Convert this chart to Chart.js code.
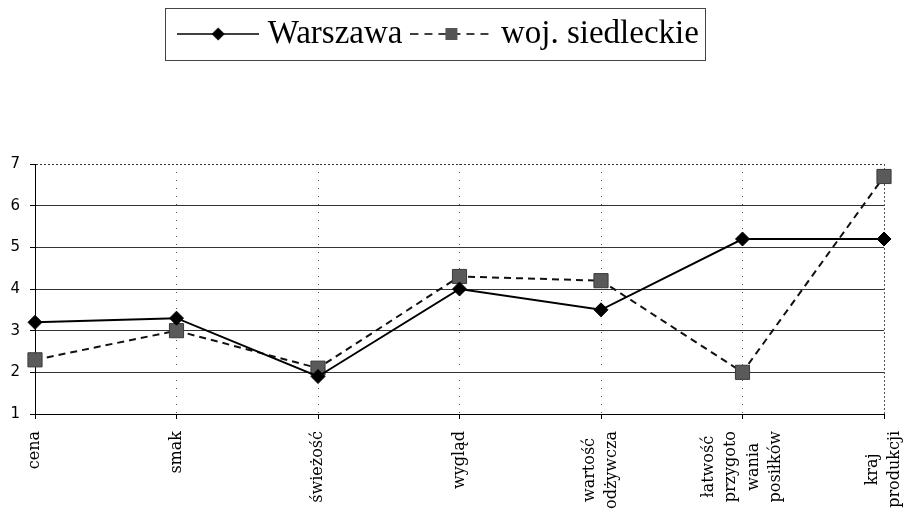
<!DOCTYPE html>
<html>
<head>
<meta charset="utf-8">
<script src="https://cdn.jsdelivr.net/npm/chart.js@4.4.1/dist/chart.umd.min.js"></script>
<style>
html, body { margin: 0; padding: 0; background: #fff; }
#wrap { width: 911px; height: 510px; position: relative; }
</style>
</head>
<body>
<div id="wrap"><canvas id="c"></canvas></div>
<script>
// ---- data ----
const categories = [
  ['cena'],
  ['smak'],
  ['świeżość'],
  ['wygląd'],
  ['wartość', 'odżywcza'],
  ['łatwość', 'przygoto', 'wania', 'posiłków'],
  ['kraj', 'produkcji']
];
const seriesNames = ['Warszawa', 'woj. siedleckie'];
const warszawa   = [3.2, 3.3, 1.9, 4.0, 3.5, 5.2, 5.2];
const siedleckie = [2.3, 3.0, 2.1, 4.3, 4.2, 2.0, 6.7];
const yTicks = [1, 2, 3, 4, 5, 6, 7];

// ---- legend icons (line + marker samples) ----
function makeIcon(kind) {
  const c = document.createElement('canvas');
  c.width = 82; c.height = 20;
  const g = c.getContext('2d');
  g.strokeStyle = '#000';
  g.lineWidth = 1.6;
  if (kind === 'square') g.setLineDash([8, 6]);
  g.beginPath(); g.moveTo(0, 10); g.lineTo(82, 10); g.stroke();
  g.setLineDash([]);
  if (kind === 'diamond') {
    g.fillStyle = '#000';
    g.beginPath();
    g.moveTo(34.5, 10); g.lineTo(41, 3.5); g.lineTo(47.5, 10); g.lineTo(41, 16.5);
    g.closePath(); g.fill();
  } else {
    g.fillStyle = '#555';
    g.fillRect(35, 4, 12, 12);
  }
  return c;
}
const legendIcons = [makeIcon('diamond'), makeIcon('square')];

const LEGEND_BLOCK = 162.5;
const legendSpacer = {
  id: 'legendSpacer',
  beforeUpdate(chart) {
    const lg = chart.legend;
    if (lg && !lg._patched) {
      const orig = lg.fit;
      lg.fit = function () { orig.call(this); this.height = LEGEND_BLOCK; };
      lg._patched = true;
    }
  }
};

const legendBorder = {
  id: 'legendBorder',
  afterDraw(chart) {
    const hb = chart.legend && chart.legend.legendHitBoxes;
    if (!hb || !hb.length) return;
    const a = hb[0], b = hb[hb.length - 1];
    const ctx = chart.ctx;
    ctx.save();
    ctx.strokeStyle = '#444';
    ctx.lineWidth = 1;
    const l = Math.round(a.left - 20.5) + 0.5;
    const r = Math.round(b.left + b.width + 6.5) + 0.5;
    const t = Math.round(a.top - 9.5) + 0.5;
    const btm = Math.round(a.top + a.height + 9.5) + 0.5;
    ctx.strokeRect(l, t, r - l, btm - t);
    ctx.restore();
  }
};

const xLabels = {
  id: 'xLabels',
  afterDraw(chart) {
    const s = chart.scales.x;
    const ctx = chart.ctx;
    const lh = 22.4;
    ctx.save();
    ctx.font = '16px "DejaVu Serif"';
    ctx.fillStyle = '#000';
    ctx.textAlign = 'center';
    ctx.textBaseline = 'middle';
    categories.forEach((lines, i) => {
      const px = s.getPixelForTick(i);
      const maxW = Math.max(...lines.map(t => ctx.measureText(t).width));
      ctx.save();
      ctx.translate(px, s.top + 17);
      ctx.rotate(-Math.PI / 2);
      lines.forEach((t, j) => ctx.fillText(t, -maxW / 2, (j - (lines.length - 1) / 2) * lh));
      ctx.restore();
    });
    ctx.restore();
  }
};

Chart.defaults.font.family = '"DejaVu Sans", sans-serif';
Chart.defaults.color = '#000';

new Chart(document.getElementById('c'), {
  type: 'line',
  data: {
    labels: categories,
    datasets: [
      {
        label: seriesNames[0],
        data: warszawa,
        borderColor: '#000',
        borderWidth: 2,
        pointStyle: 'rectRot',
        pointRadius: 7,
        pointBackgroundColor: '#000',
        pointBorderColor: '#000',
        pointBorderWidth: 1,
        tension: 0,
        clip: false
      },
      {
        label: seriesNames[1],
        data: siedleckie,
        borderColor: '#111',
        borderWidth: 2,
        borderDash: [7, 5],
        pointStyle: 'rect',
        pointRadius: 10,
        pointBackgroundColor: '#5a5a5a',
        pointBorderColor: '#3a3a3a',
        pointBorderWidth: 1,
        tension: 0,
        clip: false
      }
    ]
  },
  options: {
    responsive: true,
    maintainAspectRatio: false,
    animation: false,
    layout: { padding: { top: 1.5, right: 27, bottom: 0, left: 0 } },
    plugins: {
      tooltip: { enabled: false },
      legend: {
        position: 'top',
        labels: {
          usePointStyle: true,
          pointStyleWidth: 66,
          padding: 16,
          color: '#000',
          font: { family: '"Liberation Serif", serif', size: 33 },
          generateLabels(chart) {
            const items = Chart.defaults.plugins.legend.labels.generateLabels(chart);
            items.forEach((it, i) => { it.pointStyle = legendIcons[i]; it.lineWidth = 0; });
            return items;
          }
        }
      }
    },
    scales: {
      x: {
        type: 'category',
        offset: false,
        afterFit(scale) { scale.height = 96; },
        ticks: { display: false },
        grid: {
          color: '#555',
          lineWidth: 1,
          drawTicks: true,
          tickLength: 5,
          tickColor: '#000',
          tickBorderDash: []
        },
        border: {
          display: true,
          color: '#000',
          width: 1,
          dash: (ctx) => (ctx.tick && ctx.index === categories.length - 1) ? [2, 2] : [1, 7]
        }
      },
      y: {
        min: yTicks[0],
        max: yTicks[yTicks.length - 1],
        afterFit(scale) { scale.width = 35; },
        ticks: {
          stepSize: 1,
          padding: 10,
          color: '#000',
          font: { family: '"DejaVu Sans", sans-serif', size: 15 }
        },
        afterBuildTicks(scale) { scale.ticks = yTicks.map(v => ({ value: v })); },
        grid: {
          color: '#333',
          lineWidth: 1,
          tickLength: 5,
          tickColor: '#000'
        },
        border: {
          display: true,
          color: '#000',
          width: 1,
          dash: (ctx) => (ctx.tick && ctx.tick.value === yTicks[yTicks.length - 1]) ? [2, 2] : []
        }
      }
    }
  },
  plugins: [legendSpacer, legendBorder, xLabels]
});
</script>
</body>
</html>
